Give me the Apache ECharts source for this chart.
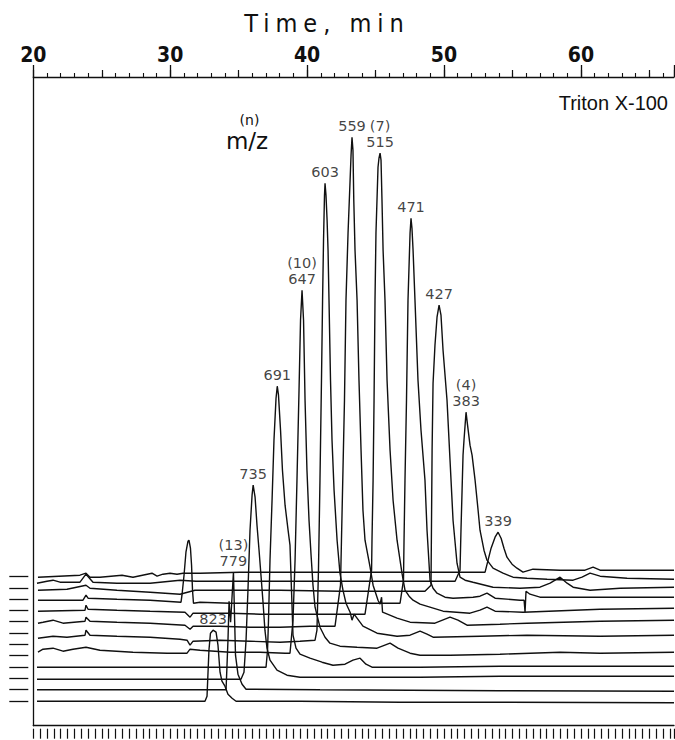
<!DOCTYPE html>
<html>
<head>
<meta charset="utf-8">
<script src="https://cdn.jsdelivr.net/npm/echarts@6/dist/echarts.min.js"></script>
<style>
  html, body { margin: 0; padding: 0; background: #fff; }
  #chart { width: 675px; height: 740px; }
</style>
</head>
<body>
<div id="chart"></div>
<script>
// Selected-ion chromatograms of Triton X-100 oligomers.
// Each point: [retention time (min), intensity above that trace's own baseline].
const ion823 = [[20.27,0],[32.54,0],[32.69,1.0],[32.83,10.2],[32.94,13.6],[33.13,14.2],[33.35,13.8],[33.49,11.2],[33.64,5.8],[33.78,4.0],[34.0,3.0],[34.22,1.4],[34.52,0.6],[34.81,0],[39.48,0],[46.79,-0.2],[54.09,-0.2],[66.8,-0.3]];
const ion779 = [[20.27,0],[32.47,0],[34.08,0],[34.22,9.9],[34.30,17.7],[34.41,13.5],[34.62,23.5],[34.77,6.9],[34.95,3.1],[35.25,1.1],[35.54,0.1],[40.94,0],[54.09,-0.2],[66.8,-0.3]];
const ion735 = [[20.27,-0.2],[32.40,-0.2],[35.17,-0.2],[35.39,1.2],[35.54,7.6],[35.68,17.6],[35.83,29.6],[35.98,36.6],[36.06,38.6],[36.20,36.2],[36.34,30.6],[36.49,25.6],[36.63,20.6],[36.78,15.2],[36.92,9.6],[37.07,6.0],[37.29,3.6],[37.80,1.6],[38.53,0.6],[39.48,0.2],[48.25,0.2],[54.09,0.4],[61.40,0.4],[66.8,0.4]];
const ion691 = [[20.27,0],[32.47,0],[37.00,0],[37.11,3.4],[37.18,9.4],[37.29,21.4],[37.44,33.4],[37.58,45.4],[37.73,53.8],[37.82,56.2],[37.91,54.4],[38.06,47.4],[38.20,39.4],[38.39,32.4],[38.61,27.4],[38.75,24.4],[38.86,15.4],[38.97,6.4],[39.19,3.8],[39.48,2.6],[40.21,1.8],[41.09,1.0],[41.89,0.4],[42.77,0.6],[43.35,1.4],[43.87,1.8],[44.30,0.6],[44.74,0],[48.25,0],[54.09,0.2],[61.40,0.2],[66.8,0.2]];
const ion647 = [[20.34,0.7],[20.71,1.3],[21.44,1.5],[22.17,0.9],[22.90,1.3],[23.85,1.7],[24.87,1.1],[27.28,0.7],[29.77,0.5],[31.23,0.5],[31.45,1.3],[32.18,1.1],[34.37,0.7],[36.56,0.7],[38.39,0.5],[38.75,0.5],[38.97,7.1],[39.12,19.1],[39.26,35.1],[39.41,53.1],[39.52,67.1],[39.63,73.1],[39.74,67.1],[39.85,51.1],[39.99,37.1],[40.14,27.1],[40.29,20.1],[40.43,14.1],[40.58,9.7],[40.94,5.7],[41.31,3.7],[41.67,2.5],[42.40,1.9],[43.65,1.7],[45.11,1.5],[46.06,2.5],[46.64,1.5],[47.52,0.5],[48.25,0.1],[50.44,0.1],[54.09,0.3],[58.48,0.7],[61.40,0.5],[66.8,0.7]];
const ion603 = [[20.34,1.3],[21.44,1.7],[22.46,1.5],[23.78,1.9],[23.85,2.9],[24.14,1.9],[26.11,1.7],[28.53,1.5],[30.72,1.1],[31.23,0.9],[31.45,-0.1],[31.67,0.7],[33.64,0.9],[35.83,0.7],[38.02,0.5],[39.48,0.7],[40.58,0.9],[40.72,2.9],[40.83,14.9],[40.94,32.9],[41.05,52.9],[41.13,68.9],[41.20,80.9],[41.27,89.9],[41.31,92.3],[41.38,89.9],[41.46,84.9],[41.53,78.9],[41.60,68.9],[41.71,52.9],[41.82,40.9],[41.97,30.9],[42.19,20.9],[42.40,14.3],[42.62,10.9],[42.84,8.3],[43.14,6.5],[43.28,4.9],[43.43,6.1],[44.08,3.7],[45.11,2.3],[46.57,1.7],[47.52,1.9],[48.25,2.7],[48.76,2.1],[49.20,1.5],[52.63,1.7],[56.06,1.9],[61.40,1.7],[66.8,1.9]];
const ion559 = [[20.34,2.0],[20.71,2.2],[21.44,2.6],[22.17,2.0],[23.78,2.4],[23.85,3.2],[24.14,2.4],[26.11,2.2],[28.53,2.0],[31.08,1.6],[31.45,0.8],[31.67,1.4],[33.64,1.4],[35.83,1.2],[38.02,1.2],[40.21,1.4],[42.04,1.4],[42.44,9.6],[42.51,18.6],[42.62,32.6],[42.73,46.6],[42.84,66.6],[42.99,80.0],[43.14,90.6],[43.21,95.6],[43.28,99.2],[43.35,96.6],[43.41,86.6],[43.50,76.6],[43.65,66.6],[43.79,50.6],[43.94,36.6],[44.08,24.6],[44.23,18.6],[44.60,13.2],[44.82,9.6],[45.18,6.6],[45.33,5.8],[45.44,7.2],[45.51,4.2],[45.69,4.0],[46.57,3.0],[47.52,2.2],[49.34,2.0],[50.44,3.2],[51.02,2.6],[51.68,1.6],[54.09,1.8],[56.06,2.0],[61.40,2.4],[66.8,2.6]];
const ion515 = [[20.34,2.1],[23.78,2.3],[23.85,3.3],[24.00,2.5],[26.11,2.3],[28.53,2.1],[31.08,1.9],[31.45,0.9],[31.67,1.7],[34.37,1.7],[36.56,1.5],[39.48,1.5],[42.40,1.5],[44.23,1.5],[44.71,10.3],[44.74,16.3],[44.82,28.3],[44.89,44.3],[44.96,64.3],[45.03,77.7],[45.18,90.9],[45.25,92.7],[45.33,93.7],[45.40,92.3],[45.47,84.3],[45.55,74.3],[45.69,64.3],[45.84,48.3],[46.06,34.3],[46.28,24.3],[46.57,16.3],[46.93,9.7],[47.15,6.3],[47.45,5.1],[47.74,4.3],[48.25,3.5],[49.93,2.1],[51.90,1.7],[52.63,2.3],[53.14,2.9],[53.73,2.1],[55.77,1.9],[61.40,2.5],[66.8,2.7]];
const ion471 = [[20.34,2.1],[23.63,2.1],[23.85,3.1],[24.00,2.5],[26.11,2.3],[28.53,2.1],[30.79,1.7],[30.86,3.1],[31.01,7.1],[31.15,11.7],[31.30,13.9],[31.37,14.1],[31.48,12.5],[31.56,9.1],[31.63,4.1],[31.70,1.5],[32.18,1.7],[34.37,1.5],[37.29,1.5],[40.94,1.5],[45.33,1.5],[46.79,1.5],[47.04,6.1],[47.08,14.1],[47.15,26.1],[47.26,42.1],[47.37,62.1],[47.52,75.5],[47.59,78.5],[47.66,76.5],[47.74,72.1],[47.88,62.1],[48.10,46.1],[48.32,36.1],[48.61,26.1],[48.76,16.1],[48.98,6.1],[49.20,4.5],[49.49,3.5],[50.07,2.7],[50.66,2.5],[52.12,2.7],[52.63,2.9],[53.14,3.5],[53.73,2.5],[55.55,2.1],[55.85,2.1],[55.92,-0.3],[55.99,3.9],[56.28,3.3],[57.01,2.7],[61.40,2.7],[66.8,2.7]];
const ion427 = [[20.34,1.8],[22.46,2.0],[23.85,2.8],[24.14,2.2],[26.11,1.8],[28.53,1.4],[30.72,1.0],[31.81,1.8],[34.37,1.8],[38.02,1.8],[42.40,1.6],[46.79,1.6],[48.61,1.6],[49.05,2.8],[49.13,29.8],[49.20,43.2],[49.34,50.8],[49.49,56.4],[49.64,58.8],[49.78,56.8],[49.93,49.8],[50.22,39.8],[50.44,27.8],[50.66,15.8],[50.95,7.2],[51.17,4.4],[51.54,3.8],[52.12,3.4],[53.58,2.4],[55.55,2.2],[57.01,2.4],[57.75,3.2],[58.48,4.4],[58.99,3.2],[59.43,2.4],[60.67,1.8],[62.86,2.2],[66.8,2.4]];
const ion383 = [[20.27,1.0],[21.00,1.4],[21.44,1.6],[21.95,1.2],[23.41,1.2],[23.85,2.8],[24.36,1.2],[26.11,1.0],[28.53,1.0],[30.72,1.6],[31.89,1.4],[34.37,1.4],[39.48,1.4],[46.79,1.4],[50.81,1.4],[51.17,3.6],[51.24,11.6],[51.32,19.6],[51.39,26.6],[51.46,29.6],[51.54,32.6],[51.61,35.2],[51.72,32.6],[51.90,28.6],[52.05,26.6],[52.27,21.6],[52.49,15.6],[52.63,11.6],[52.92,7.6],[53.14,5.6],[53.58,4.0],[54.31,3.0],[55.04,2.2],[56.06,2.0],[57.53,1.8],[59.43,1.6],[60.08,2.2],[60.67,3.0],[61.40,2.4],[63.37,2.0],[66.8,1.8]];
const ion339 = [[20.34,-0.1],[23.41,0.3],[23.85,0.7],[24.14,-0.1],[24.87,-0.1],[26.48,0.3],[27.28,-0.1],[28.67,0.7],[29.04,0.1],[29.47,0.5],[29.99,0.7],[30.50,0.5],[30.94,0.7],[32.18,0.7],[35.10,0.9],[39.48,0.9],[46.79,0.9],[53.00,0.9],[53.22,3.3],[53.44,5.7],[53.73,7.9],[53.95,8.9],[54.17,7.7],[54.38,5.7],[54.60,3.9],[54.97,2.5],[55.33,1.7],[55.77,0.9],[56.50,1.5],[58.48,1.3],[60.30,1.3],[60.89,1.9],[61.40,1.3],[66.8,1.3]];

// Front (bottom) trace first
const mzValues = [823, 779, 735, 691, 647, 603, 559, 515, 471, 427, 383, 339];
const oligomerN = [null, 13, null, null, 10, null, null, 7, null, null, 4, null];
const baselineOffsets = [4.9, 7.2, 9.5, 11.7, 14.0, 16.2, 18.5, 20.8, 23.0, 25.3, 27.5, 29.8];
const timeRange = [20, 66.8];
const timeMajorStep = 10;
const intensityRange = [0, 129.74];

const traces = [ion823, ion779, ion735, ion691, ion647, ion603, ion559, ion515, ion471, ion427, ion383, ion339];

const INK = '#101010';
const NARROW = "'Liberation Sans Narrow', 'DejaVu Sans Condensed', 'Roboto Condensed', sans-serif";

const chart = echarts.init(document.getElementById('chart'), null, { renderer: 'svg' });

// Back traces are drawn first; each white-filled trace hides the ones behind it.
const traceSeries = [];
for (let k = traces.length - 1; k >= 0; k--) {
  const off = baselineOffsets[k];
  traceSeries.push({
    name: 'm/z ' + mzValues[k],
    type: 'line',
    xAxisIndex: 0,
    yAxisIndex: 0,
    symbol: 'none',
    silent: true,
    smooth: false,
    data: traces[k].map(p => [p[0], off + p[1]]),
    lineStyle: { color: INK, width: 1.4 },
    areaStyle: { color: '#ffffff', opacity: 1, origin: 'start' },
    z: 2
  });
}

// Peak labels sit on each trace's apex
const labelData = traces.map((tr, k) => {
  let apex = tr[0];
  tr.forEach(p => { if (p[1] > apex[1]) apex = p; });
  const txt = (oligomerN[k] != null ? '(' + oligomerN[k] + ')\n' : '') + mzValues[k];
  return { value: [apex[0], baselineOffsets[k] + apex[1]], label: { formatter: txt } };
});

const noZero = { onZero: false };

const option = {
  animation: false,
  backgroundColor: '#ffffff',
  grid: { left: 33.3, right: 1, top: 77, bottom: 14.3, containLabel: false },
  xAxis: [
    {
      type: 'value', position: 'top', min: timeRange[0], max: timeRange[1], interval: timeMajorStep, z: 10,
      axisLine: Object.assign({ show: true, lineStyle: { color: INK, width: 1.3 } }, noZero),
      axisTick: { show: true, length: 12, lineStyle: { color: INK, width: 1.3 } },
      minorTick: { show: true, splitNumber: 10, length: 4, lineStyle: { color: INK, width: 1.1 } },
      axisLabel: { show: true, color: INK, fontFamily: NARROW, fontSize: 21, fontWeight: 'bold', margin: 12,
                   showMaxLabel: false },
      splitLine: { show: false }, minorSplitLine: { show: false }
    },
    {
      type: 'value', position: 'top', min: timeRange[0], max: timeRange[1], interval: timeMajorStep / 2, z: 10,
      axisLine: Object.assign({ show: false }, noZero),
      axisTick: { show: true, length: 7, lineStyle: { color: INK, width: 1.2 } },
      axisLabel: { show: false }, splitLine: { show: false }
    },
    {
      type: 'value', position: 'bottom', min: timeRange[0], max: timeRange[1], z: 10,
      axisLine: Object.assign({ show: true, lineStyle: { color: INK, width: 1.3 } }, noZero),
      axisTick: { show: false }, axisLabel: { show: false }, splitLine: { show: false }
    },
    {
      type: 'value', position: 'bottom', offset: 3, min: timeRange[0], max: timeRange[1], interval: 0.5, z: 10,
      axisLine: Object.assign({ show: false }, noZero),
      axisTick: { show: true, length: 10, lineStyle: { color: INK, width: 1.2 } },
      axisLabel: { show: false }, splitLine: { show: false }
    }
  ],
  yAxis: [
    {
      type: 'value', position: 'left', min: intensityRange[0], max: intensityRange[1], z: 10,
      axisLine: Object.assign({ show: true, lineStyle: { color: INK, width: 1.3 } }, noZero),
      axisTick: { show: false }, axisLabel: { show: false }, splitLine: { show: false }
    },
    {
      type: 'value', position: 'left', offset: 5, min: intensityRange[0], max: intensityRange[1], z: 10,
      axisLine: Object.assign({ show: false }, noZero),
      axisTick: { show: true, length: 19, customValues: baselineOffsets, lineStyle: { color: INK, width: 1.3 } },
      axisLabel: { show: false }, splitLine: { show: false }
    }
  ],
  series: traceSeries.concat([{
    name: 'peak labels',
    type: 'scatter',
    xAxisIndex: 0,
    yAxisIndex: 0,
    symbol: 'circle',
    symbolSize: 1,
    silent: true,
    itemStyle: { color: 'rgba(0,0,0,0)' },
    label: { show: true, position: 'top', distance: 3, color: INK,
             fontFamily: "'DejaVu Sans', sans-serif", fontSize: 14.5, lineHeight: 16 },
    data: labelData,
    z: 20
  }]),
  graphic: [
    { type: 'text', x: 327, y: 23, z: 30,
      style: { text: 'Time, min', fill: INK, font: "25px " + NARROW,
               align: 'center', verticalAlign: 'middle', textAlign: 'center', textVerticalAlign: 'middle' } },
    { type: 'text', x: 668, y: 103, z: 30,
      style: { text: 'Triton X-100', fill: INK, font: "20px 'Liberation Sans', Arial, sans-serif",
               align: 'right', verticalAlign: 'middle', textAlign: 'right', textVerticalAlign: 'middle' } },
    { type: 'text', x: 249.5, y: 120, z: 30,
      style: { text: '(n)', fill: INK, font: "14px 'DejaVu Sans', sans-serif",
               align: 'center', verticalAlign: 'middle', textAlign: 'center', textVerticalAlign: 'middle' } },
    { type: 'text', x: 247, y: 141, z: 30,
      style: { text: 'm/z', fill: INK, font: "23px 'DejaVu Sans', sans-serif",
               align: 'center', verticalAlign: 'middle', textAlign: 'center', textVerticalAlign: 'middle' } }
  ]
};

chart.setOption(option);

// Widen the letter spacing of the axis title
function spaceTitle() {
  chart.getDom().querySelectorAll('text').forEach(el => {
    if (el.textContent === 'Time, min') el.style.letterSpacing = '6px';
  });
}
spaceTitle();
chart.on('finished', spaceTitle);
</script>
</body>
</html>
